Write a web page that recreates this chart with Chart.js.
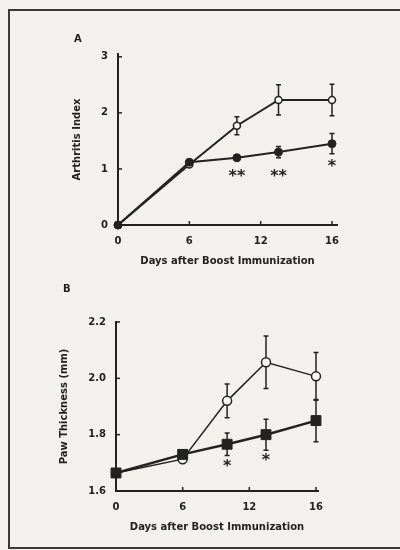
<!DOCTYPE html>
<html>
<head>
<meta charset="utf-8">
<script src="https://cdn.jsdelivr.net/npm/chart.js@4"></script>
<style>
body{margin:0;background:#f2f1ee;width:400px;height:550px;overflow:hidden;position:relative;font-family:"DejaVu Sans",sans-serif}
#frame{position:absolute;left:8px;top:9px;width:440px;height:536px;border:2px solid #3a3a3a}
.panel{position:absolute;left:0;width:400px}
.tag{position:absolute;font:bold 10px "DejaVu Sans";color:#222}
</style>
</head>
<body>
<div id="frame"></div>
<div class="panel" style="top:0;height:280px"><canvas id="chartA"></canvas></div>
<div class="panel" style="top:280px;height:270px"><canvas id="chartB"></canvas></div>
<div class="tag" style="left:74px;top:33px">A</div>
<div class="tag" style="left:63px;top:283px">B</div>
<script>
// days on the x axis (ticks are drawn evenly spaced in the original figure)
var tickDays = [0, 6, 12, 16];
var days = [0, 6, 10, 13, 16];

// panel A - arthritis index
var arthritisTicks = [0, 1, 2, 3];
var arthritisControl = [0, 1.08, 1.77, 2.23, 2.23];
var arthritisControlErr = [0, 0, 0.16, 0.27, 0.28];
var arthritisTreated = [0, 1.12, 1.2, 1.3, 1.45];
var arthritisTreatedErr = [0, 0, 0.05, 0.1, 0.18];
var arthritisStars = ['', '', '**', '**', '*'];
var arthritisStarY = [null, null, 0.93, 0.93, 1.1];

// panel B - paw thickness (mm)
var pawTicks = [1.6, 1.8, 2.0, 2.2];
var pawControl = [1.664, 1.713, 1.92, 2.057, 2.007];
var pawControlErr = [0, 0, 0.06, 0.093, 0.085];
var pawTreated = [1.664, 1.73, 1.766, 1.80, 1.85];
var pawTreatedErr = [0, 0, 0.04, 0.055, 0.075];
var pawStars = ['', '', '*', '*', ''];
var pawStarY = [null, null, 1.70, 1.72, null];

Chart.defaults.font.family = 'DejaVu Sans';
Chart.defaults.font.size = 10;
Chart.defaults.font.weight = 'bold';
Chart.defaults.color = '#222';

// position of a day on the evenly spaced tick axis
function dayPos(d) {
    for (var i = 0; i < tickDays.length - 1; i++) {
        if (d <= tickDays[i + 1]) return i + (d - tickDays[i]) / (tickDays[i + 1] - tickDays[i]);
    }
    return tickDays.length - 1;
}

function pts(vals) {
    return days.map(function (d, i) { return {x: dayPos(d), y: vals[i]}; });
}

var extras = {
    id: 'extras',
    beforeDatasetsDraw: function (chart, args, opts) {
        var ctx = chart.ctx, xs = chart.scales.x, ys = chart.scales.y;
        ctx.save();
        ctx.strokeStyle = '#222';
        ctx.lineWidth = 1.5;
        opts.errors.forEach(function (e, di) {
            chart.data.datasets[di].data.forEach(function (p, i) {
                if (!e[i]) return;
                var px = xs.getPixelForValue(p.x);
                var top = ys.getPixelForValue(p.y + e[i]);
                var bot = ys.getPixelForValue(p.y - e[i]);
                ctx.beginPath();
                ctx.moveTo(px, top); ctx.lineTo(px, bot);
                ctx.moveTo(px - 2.5, top); ctx.lineTo(px + 2.5, top);
                ctx.moveTo(px - 2.5, bot); ctx.lineTo(px + 2.5, bot);
                ctx.stroke();
            });
        });
        ctx.restore();
    },
    afterDraw: function (chart, args, opts) {
        var ctx = chart.ctx, xs = chart.scales.x, ys = chart.scales.y, area = chart.chartArea;
        ctx.save();
        ctx.strokeStyle = '#222';
        ctx.lineWidth = 1.5;
        // small inward tick marks
        ys.ticks.forEach(function (t) {
            var py = ys.getPixelForValue(t.value);
            ctx.beginPath(); ctx.moveTo(area.left, py); ctx.lineTo(area.left + 4, py); ctx.stroke();
        });
        xs.ticks.forEach(function (t) {
            var px = xs.getPixelForValue(t.value);
            ctx.beginPath(); ctx.moveTo(px, area.bottom); ctx.lineTo(px, area.bottom - 4); ctx.stroke();
        });
        // significance marks
        ctx.fillStyle = '#222';
        ctx.font = 'bold 16px "DejaVu Sans"';
        ctx.textAlign = 'center';
        ctx.textBaseline = 'middle';
        opts.stars.forEach(function (s, i) {
            if (!s) return;
            ctx.fillText(s, xs.getPixelForValue(dayPos(days[i])), ys.getPixelForValue(opts.starY[i]) + 4);
        });
        ctx.restore();
    }
};

function makeChart(id, cfg) {
    return new Chart(document.getElementById(id), {
        type: 'line',
        data: {datasets: cfg.datasets},
        options: {
            responsive: true,
            maintainAspectRatio: false,
            animation: false,
            layout: {padding: cfg.padding},
            plugins: {
                legend: {display: false},
                tooltip: {enabled: false},
                extras: {errors: cfg.errors, stars: cfg.stars, starY: cfg.starY}
            },
            scales: {
                x: {
                    type: 'linear', min: 0, max: cfg.xMax,
                    afterBuildTicks: function (s) { s.ticks = tickDays.map(function (d, i) { return {value: i}; }); },
                    afterFit: function (s) { s.height = cfg.xHeight; },
                    ticks: {padding: 10, callback: function (v) { return String(tickDays[Math.round(v)]); }},
                    grid: {drawOnChartArea: false, drawTicks: false},
                    border: {color: '#222', width: 2},
                    title: {display: true, text: 'Days after Boost Immunization', padding: {top: 0, bottom: cfg.xTitlePad}}
                },
                y: {
                    min: cfg.yMin, max: cfg.yMax,
                    afterBuildTicks: function (s) { s.ticks = cfg.yTicks.map(function (v) { return {value: v}; }); },
                    afterFit: function (s) { s.width = cfg.yWidth; },
                    ticks: {padding: 10, callback: cfg.yFmt},
                    grid: {drawOnChartArea: false, drawTicks: false},
                    border: {color: '#222', width: 2},
                    title: {display: true, text: cfg.yTitle, padding: {top: cfg.yTitlePad, bottom: 0}}
                }
            }
        },
        plugins: [extras]
    });
}

makeChart('chartA', {
    padding: {top: 54, right: 63, left: 0, bottom: 0},
    xMax: 3.07, xHeight: 55, xTitlePad: 13,
    yMin: 0, yMax: 3.05, yTicks: arthritisTicks, yWidth: 118, yTitlePad: 71,
    yTitle: 'Arthritis Index',
    yFmt: function (v) { return String(v); },
    errors: [arthritisTreatedErr, arthritisControlErr],
    stars: arthritisStars, starY: arthritisStarY,
    datasets: [
        {data: pts(arthritisTreated), order: 0, clip: false, tension: 0,
         borderColor: '#222', borderWidth: 2,
         pointStyle: 'circle', pointRadius: 4, pointBackgroundColor: '#222', pointBorderColor: '#222', pointBorderWidth: 1},
        {data: pts(arthritisControl), order: 1, clip: false, tension: 0,
         borderColor: '#222', borderWidth: 2,
         pointStyle: 'circle', pointRadius: 3.5, pointBackgroundColor: '#f7f6f3', pointBorderColor: '#222', pointBorderWidth: 1.5}
    ]
});

makeChart('chartB', {
    padding: {top: 42, right: 82, left: 0, bottom: 0},
    xMax: 3.03, xHeight: 59, xTitlePad: 17,
    yMin: 1.6, yMax: 2.2, yTicks: pawTicks, yWidth: 116, yTitlePad: 58,
    yTitle: 'Paw Thickness (mm)',
    yFmt: function (v) { return v.toFixed(1); },
    errors: [pawTreatedErr, pawControlErr],
    stars: pawStars, starY: pawStarY,
    datasets: [
        {data: pts(pawTreated), order: 0, clip: false, tension: 0,
         borderColor: '#222', borderWidth: 2.5,
         pointStyle: 'rect', pointRadius: 7, pointBackgroundColor: '#222', pointBorderColor: '#222', pointBorderWidth: 1},
        {data: pts(pawControl), order: 1, clip: false, tension: 0,
         borderColor: '#222', borderWidth: 1.5,
         pointStyle: 'circle', pointRadius: 4.5, pointBackgroundColor: '#f7f6f3', pointBorderColor: '#222', pointBorderWidth: 1.5}
    ]
});
</script>
</body>
</html>
